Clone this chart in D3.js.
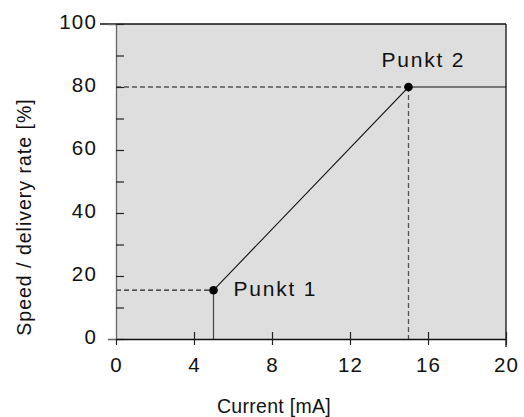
<!DOCTYPE html>
<html>
<head>
<meta charset="utf-8">
<script src="https://cdn.jsdelivr.net/npm/d3@7"></script>
<style>
  html, body { margin: 0; padding: 0; background: #fff; }
  svg { display: block; }
  text { font-family: "Liberation Sans", Arial, sans-serif; fill: #111; }
</style>
</head>
<body>
<svg id="chart" width="524" height="417"></svg>
<script>
// ---- data ----
const xTicks = [0, 4, 8, 12, 16, 20];
const yTicks = [0, 10, 20, 30, 40, 50, 60, 70, 80, 90, 100];
const yLabelTicks = [0, 20, 40, 60, 80, 100];
const pointNames = ["Punkt 1", "Punkt 2"];
const pointCurrent = [5, 15];
const pointSpeed = [15.5, 80];
const curveCurrent = [5, 15, 20];
const curveSpeed = [15.5, 80, 80];
const xTitle = "Current [mA]";
const yTitle = "Speed / delivery rate [%]";

// ---- layout ----
const svg = d3.select("#chart");
const x = d3.scaleLinear().domain([0, 20]).range([116, 506]);
const y = d3.scaleLinear().domain([0, 100]).range([339, 24]);
const FONT = "Liberation Sans, Arial, sans-serif";

// plot background
svg.append("rect")
  .attr("x", x(0)).attr("y", y(100))
  .attr("width", x(20) - x(0)).attr("height", y(0) - y(100))
  .attr("fill", "#dedede");

// top and right border
svg.append("line").attr("x1", x(0) - 16).attr("x2", x(20))
  .attr("y1", y(100)).attr("y2", y(100)).attr("stroke", "#111").attr("stroke-width", 1.3);
svg.append("line").attr("x1", x(20)).attr("x2", x(20))
  .attr("y1", y(100)).attr("y2", y(0) + 8).attr("stroke", "#111").attr("stroke-width", 1.3);

// dashed guide lines
const dash = "5,3";
const g = svg.append("g").attr("stroke", "#555").attr("stroke-width", 1.3).attr("fill", "none");
g.append("line").attr("x1", x(0)).attr("x2", x(pointCurrent[0]))
  .attr("y1", y(pointSpeed[0])).attr("y2", y(pointSpeed[0])).attr("stroke-dasharray", dash).attr("stroke", "#222");
g.append("line").attr("x1", x(0)).attr("x2", x(pointCurrent[1]))
  .attr("y1", y(pointSpeed[1])).attr("y2", y(pointSpeed[1])).attr("stroke-dasharray", dash);
g.append("line").attr("x1", x(pointCurrent[1])).attr("x2", x(pointCurrent[1]))
  .attr("y1", y(pointSpeed[1])).attr("y2", y(0)).attr("stroke-dasharray", dash);
// solid vertical at point 1
g.append("line").attr("x1", x(pointCurrent[0])).attr("x2", x(pointCurrent[0]))
  .attr("y1", y(pointSpeed[0])).attr("y2", y(0)).attr("stroke", "#444").attr("stroke-width", 1.2);

// curve
const line = d3.line().x((d, i) => x(curveCurrent[i])).y((d, i) => y(curveSpeed[i]));
svg.append("path").datum(curveCurrent)
  .attr("d", line).attr("fill", "none").attr("stroke", "#111").attr("stroke-width", 1.1);

// y axis
const yAxis = svg.append("g").attr("transform", `translate(${x(0)},0)`)
  .call(d3.axisLeft(y).tickValues(yTicks)
    .tickFormat(d => yLabelTicks.includes(d) ? d : "")
    .tickSize(8).tickPadding(11));
yAxis.select(".domain").attr("stroke", "#666").attr("stroke-width", 1.3);
yAxis.selectAll(".tick line").attr("x2", 8).attr("stroke", "#222").attr("stroke-width", 1.2);
yAxis.selectAll(".tick text")
  .attr("dy", 4.5)
  .attr("font-size", 20.5).attr("letter-spacing", "1.2px").attr("fill", "#111")
  .attr("font-family", FONT);

// x axis
const xAxis = svg.append("g").attr("transform", `translate(0,${y(0)})`)
  .call(d3.axisBottom(x).tickValues(xTicks).tickSize(6).tickSizeOuter(0));
xAxis.select(".domain").attr("stroke", "#111").attr("stroke-width", 1.3);
xAxis.selectAll(".tick line").attr("y1", d => d === 0 ? 0 : -7).attr("stroke", "#222").attr("stroke-width", 1.2);
xAxis.selectAll(".tick text")
  .attr("y", 33).attr("dy", 0)
  .attr("font-size", 20.5).attr("letter-spacing", "1.2px").attr("fill", "#111")
  .attr("font-family", FONT);

// points
svg.selectAll("circle.pt").data(pointCurrent).enter().append("circle")
  .attr("class", "pt")
  .attr("cx", d => x(d)).attr("cy", (d, i) => y(pointSpeed[i]))
  .attr("r", 4.3).attr("fill", "#000");

// point labels
svg.append("text").attr("x", x(pointCurrent[0]) + 20).attr("y", y(pointSpeed[0]) + 6)
  .attr("font-size", 21).attr("letter-spacing", "1.8px").text(pointNames[0]);
svg.append("text").attr("x", x(pointCurrent[1]) - 27).attr("y", y(pointSpeed[1]) - 20.5)
  .attr("font-size", 21).attr("letter-spacing", "1.8px").text(pointNames[1]);

// axis titles
svg.append("text").attr("x", 274).attr("y", 413)
  .attr("text-anchor", "middle").attr("font-size", 19.5).attr("letter-spacing", "0.3px").text(xTitle);
svg.append("text").attr("transform", `translate(31,217) rotate(-90)`)
  .attr("text-anchor", "middle").attr("font-size", 19.5).attr("letter-spacing", "1px").text(yTitle);
</script>
</body>
</html>
